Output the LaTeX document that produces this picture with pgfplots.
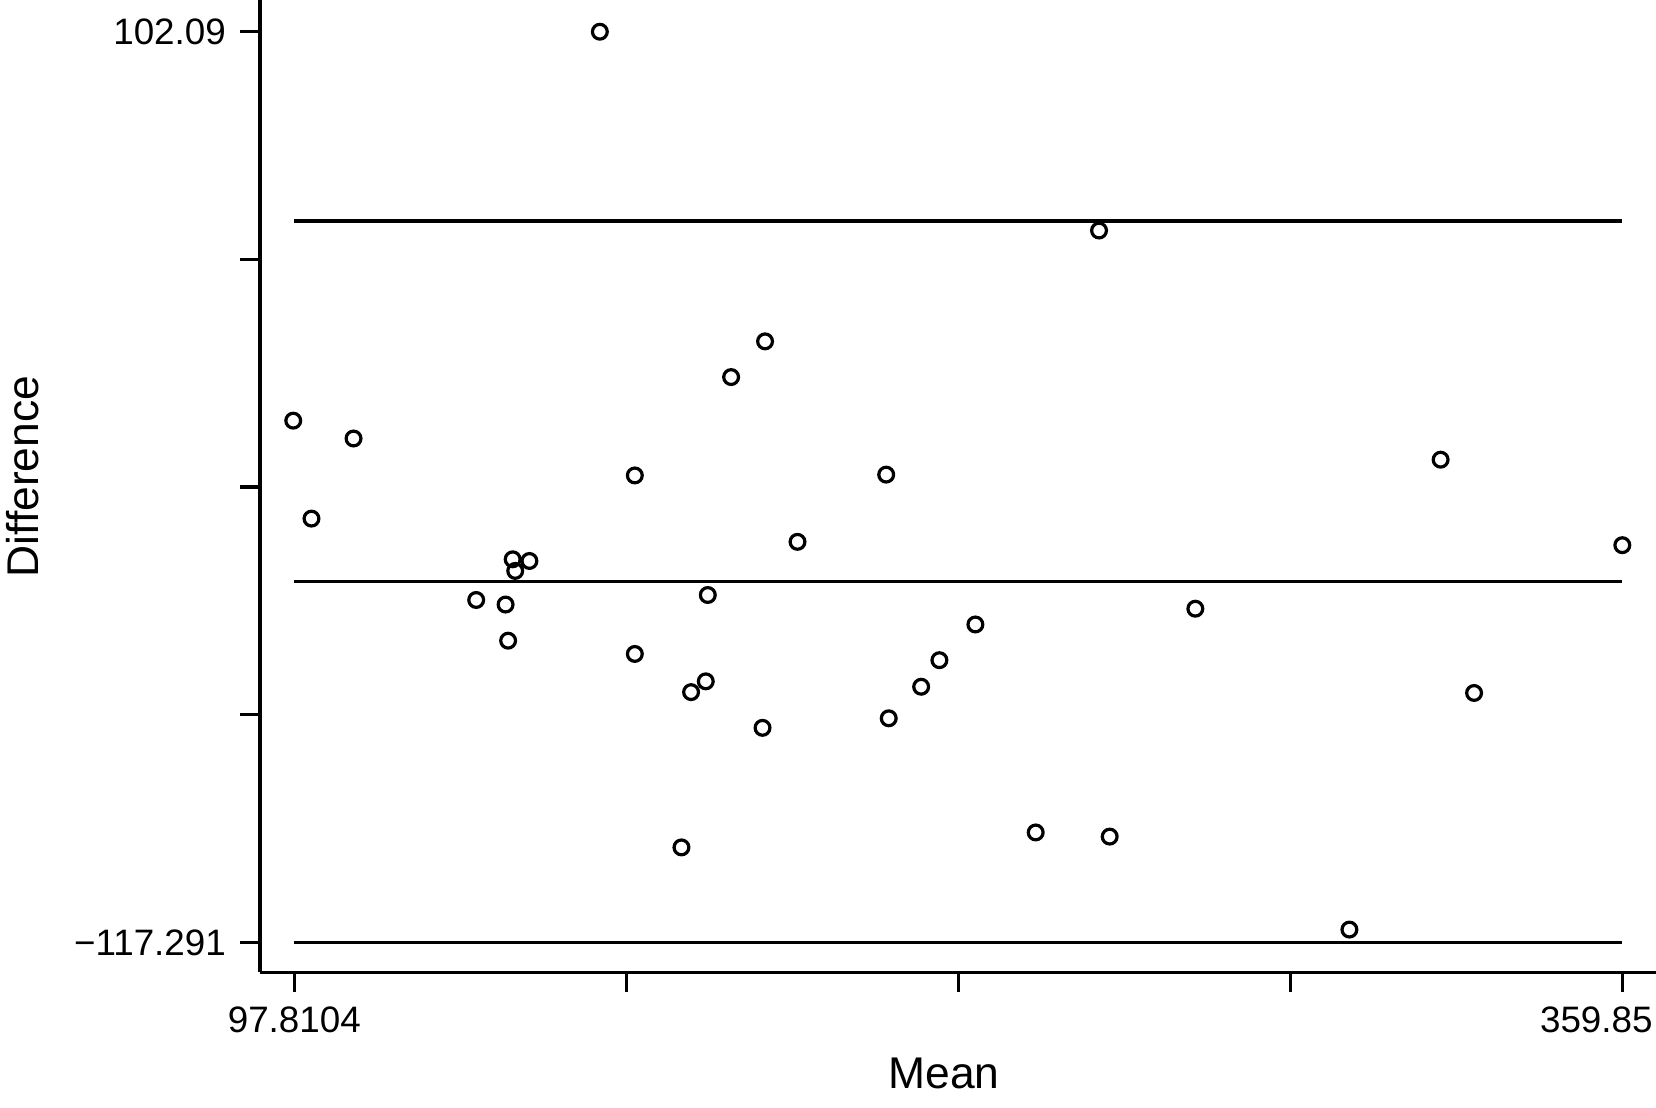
\documentclass[border=0pt]{standalone}
\usepackage{fontspec}
\setmainfont{Liberation Sans}
\usepackage{pgfplots}
\pgfplotsset{compat=1.18}
\begin{document}
\begin{tikzpicture}
\begin{axis}[
    width=349pt, height=243.1pt, scale only axis,
    xmin=91.04, xmax=366.5, ymin=-124.52, ymax=109.73,
    axis lines*=left,
    axis line style={line width=0.8pt},
    tick style={line width=0.8pt, black},
    tick align=outside, major tick length=5pt,
    xtick={97.8104,163.3203,228.8302,294.3401,359.85},
    xticklabels={97.8104,,,,{\hspace*{-13pt}359.85}},
    ytick={-117.291,-62.4457,-7.6005,47.2448,102.09},
    yticklabels={−117.291,,,,102.09},
    tick label style={font=\fontsize{9.2}{11}\selectfont},
    xlabel={Mean}, ylabel={Difference},
    label style={font=\fontsize{11.1}{13}\selectfont},
    xlabel style={at={(axis description cs:0.49,-0.119)}, anchor=base},
    ylabel style={at={(axis description cs:-0.159,0.51)}, anchor=base},
    clip=false,
]
    % limits of agreement and mean difference
    \addplot[line width=0.8pt] coordinates {(97.8104,56.5) (359.85,56.5)};
    \addplot[line width=0.8pt] coordinates {(97.8104,-30.4) (359.85,-30.4)};
    \addplot[line width=0.8pt] coordinates {(97.8104,-117.291) (359.85,-117.291)};
    % observations
    \addplot[only marks, mark=o, mark size=1.85pt, mark options={line width=0.8pt}] coordinates {
        (97.6,8.4) (101.2,-15.2) (109.5,4.1) (158.1,102.09) (165.0,-4.8)
        (133.7,-34.8) (139.5,-35.9) (140.0,-44.6) (140.9,-25.0) (141.4,-27.8)
        (144.2,-25.4) (165.0,-47.8) (174.2,-94.4) (176.1,-57.0) (179.0,-54.4)
        (179.4,-33.6) (184.0,18.9) (190.7,27.5) (190.2,-65.6) (197.1,-20.8)
        (214.6,-4.6) (215.1,-63.3) (221.5,-55.7) (225.1,-49.3) (232.2,-40.7)
        (244.1,-90.8) (256.6,54.2) (258.7,-91.8) (275.6,-36.9) (306.0,-114.2)
        (324.0,-1.0) (330.6,-57.2) (359.85,-21.6)
    };
\end{axis}
\pgfresetboundingbox
\path[use as bounding box] ([shift={(-65pt,-33.7pt)}]current axis.south west) rectangle (current axis.north east);
\end{tikzpicture}
\end{document}
